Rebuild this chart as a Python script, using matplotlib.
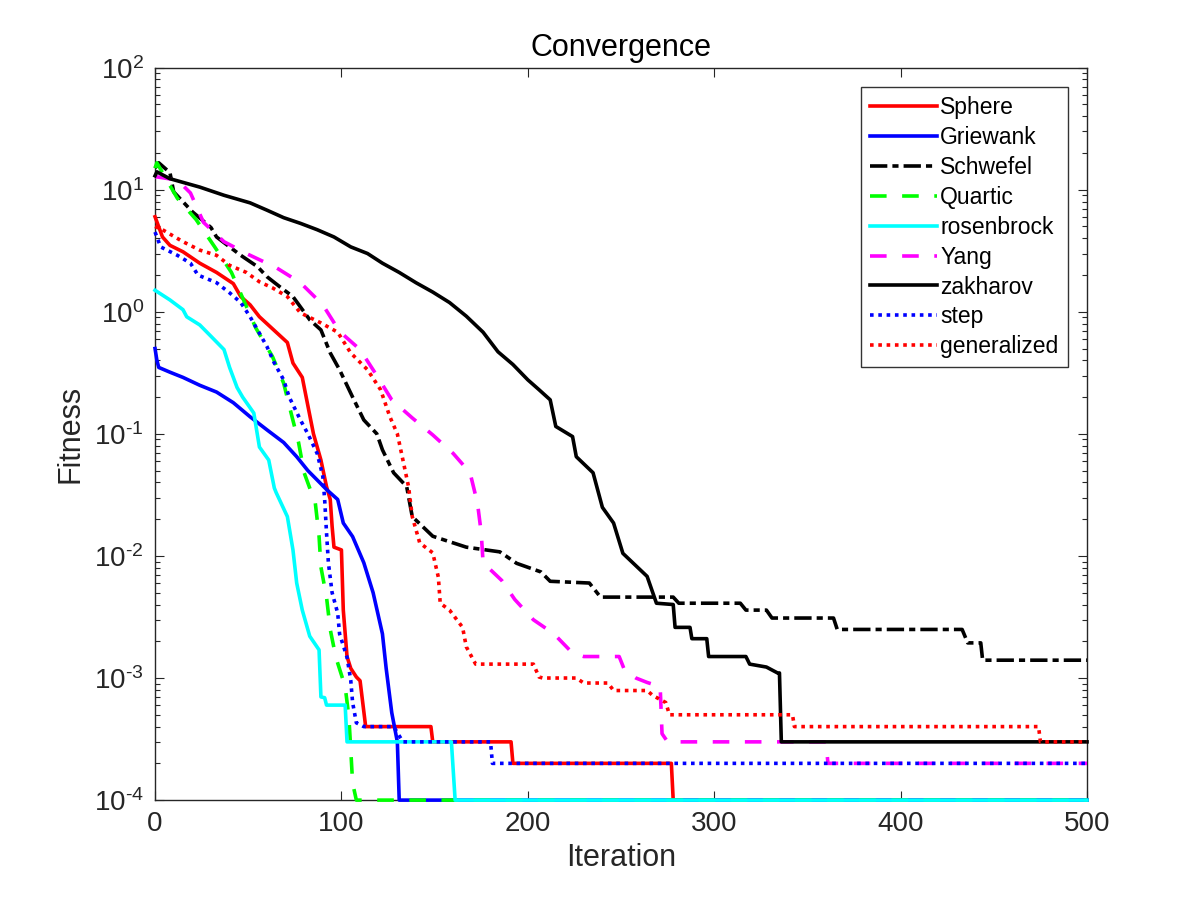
import numpy as np
import matplotlib
matplotlib.use('Agg')
from matplotlib import pyplot as plt
from matplotlib.ticker import FixedLocator, NullFormatter, FuncFormatter

# values (iteration, fitness) at the corners of each curve
sphere_x = [0, 4, 8, 15, 24, 33, 42, 46, 51, 56, 65, 71, 74, 79, 82, 85, 89, 92, 94, 95, 96, 100, 101, 103, 105, 108, 110, 113, 148, 149, 191, 192, 277, 278, 500]
sphere_y = [6.0, 4.1, 3.5, 3.1, 2.5, 2.1, 1.7, 1.33, 1.14, 0.91, 0.68, 0.56, 0.38, 0.29, 0.17, 0.10, 0.061, 0.037, 0.029, 0.0175, 0.0118, 0.0112, 0.0036, 0.0015, 0.0012, 0.00102, 0.00095, 4e-4, 4e-4, 3e-4, 3e-4, 2e-4, 2e-4, 1e-4, 1e-4]

griewank_x = [0, 1, 2, 8, 15, 24, 33, 42, 51, 60, 69, 76, 82, 89, 92, 98, 101, 106, 112, 117, 122, 124, 127, 130, 131, 500]
griewank_y = [0.5, 0.4, 0.35, 0.32, 0.29, 0.25, 0.22, 0.18, 0.138, 0.108, 0.085, 0.065, 0.05, 0.039, 0.035, 0.029, 0.0186, 0.0144, 0.0088, 0.005, 0.0023, 0.0012, 0.00052, 0.0003, 1e-4, 1e-4]

schwefel_x = [0, 2, 8, 10, 20, 30, 33, 46, 55, 60, 67, 74, 83, 89, 94, 99, 106, 112, 119, 122, 128, 135, 138, 149, 167, 185, 194, 207, 212, 233, 239, 278, 281, 314, 317, 328, 331, 364, 366, 433, 436, 443, 444, 500]
schwefel_y = [15, 16.6, 13.8, 9.6, 6.6, 4.9, 4.1, 2.9, 2.34, 1.94, 1.6, 1.33, 0.86, 0.71, 0.46, 0.335, 0.2, 0.13, 0.10, 0.074, 0.048, 0.037, 0.021, 0.0145, 0.0118, 0.0108, 0.0087, 0.0074, 0.0062, 0.006, 0.0046, 0.0046, 0.0041, 0.0041, 0.0036, 0.0036, 0.0031, 0.0031, 0.0025, 0.0025, 0.00194, 0.00194, 0.0014, 0.0014]

quartic_x = [0, 1, 4, 12, 22, 32, 41, 47, 54, 63, 69, 73, 77, 80, 86, 88, 89, 92, 94, 97, 102, 104, 105, 106, 108, 500]
quartic_y = [15, 16.6, 13.8, 8.5, 5.7, 3.4, 2.1, 1.3, 0.74, 0.43, 0.26, 0.148, 0.085, 0.048, 0.027, 0.0145, 0.0081, 0.0046, 0.0025, 0.00148, 0.00085, 0.00048, 0.00026, 0.000138, 1e-4, 1e-4]

rosen_x = [0, 8, 15, 17, 24, 30, 37, 40, 44, 47, 53, 56, 61, 64, 65, 71, 74, 76, 79, 83, 88, 89, 91, 92, 102, 103, 159, 161, 500]
rosen_y = [1.5, 1.25, 1.04, 0.91, 0.78, 0.63, 0.49, 0.35, 0.24, 0.20, 0.148, 0.078, 0.061, 0.036, 0.033, 0.021, 0.0112, 0.006, 0.0036, 0.0022, 0.0017, 0.0007, 0.00069, 0.0006, 0.0006, 0.0003, 0.0003, 1e-4, 1e-4]

yang_x = [0, 12, 19, 26, 37, 49, 65, 78, 90, 99, 110, 119, 127, 138, 149, 160, 169, 173, 175, 176, 186, 193, 203, 214, 224, 230, 249, 252, 258, 264, 271, 272, 275, 360, 361, 500]
yang_y = [12.8, 12.0, 9.4, 5.4, 3.75, 3.0, 2.3, 1.73, 1.14, 0.69, 0.49, 0.30, 0.19, 0.135, 0.098, 0.069, 0.048, 0.027, 0.0155, 0.0088, 0.0063, 0.0044, 0.003, 0.0023, 0.0016, 0.0015, 0.0015, 0.00115, 0.001, 0.00092, 0.00085, 0.00035, 3e-4, 3e-4, 2e-4, 2e-4]

zakharov_x = [0, 1, 8, 24, 37, 51, 60, 69, 78, 87, 96, 105, 114, 122, 131, 140, 149, 158, 167, 176, 184, 192, 200, 206, 212, 215, 224, 226, 235, 240, 246, 251, 264, 269, 278, 279, 287, 288, 296, 297, 317, 319, 328, 334, 335, 336, 500]
zakharov_y = [13, 14, 12.3, 10.5, 9.0, 7.8, 6.8, 5.9, 5.3, 4.7, 4.1, 3.4, 3.0, 2.5, 2.1, 1.73, 1.45, 1.19, 0.92, 0.68, 0.47, 0.37, 0.277, 0.23, 0.19, 0.115, 0.095, 0.065, 0.048, 0.025, 0.0186, 0.0105, 0.0068, 0.0041, 0.0040, 0.0026, 0.0026, 0.0021, 0.0021, 0.0015, 0.0015, 0.0013, 0.00123, 0.0011, 0.0011, 3e-4, 3e-4]

step_x = [0, 3, 12, 19, 23, 33, 40, 46, 51, 55, 60, 64, 69, 72, 78, 82, 87, 90, 91, 92, 93, 95, 98, 99, 103, 105, 106, 108, 112, 128, 133, 180, 181, 500]
step_y = [4.5, 3.4, 2.9, 2.5, 2.0, 1.73, 1.43, 1.19, 0.91, 0.71, 0.52, 0.38, 0.277, 0.20, 0.13, 0.10, 0.069, 0.045, 0.029, 0.0155, 0.0088, 0.005, 0.0034, 0.0023, 0.00148, 0.00096, 0.00063, 0.00043, 4e-4, 4e-4, 3e-4, 3e-4, 2e-4, 2e-4]

general_x = [0, 4, 15, 24, 33, 40, 49, 56, 63, 71, 78, 89, 98, 105, 114, 121, 126, 130, 133, 136, 138, 142, 149, 152, 153, 158, 165, 167, 172, 203, 206, 208, 226, 230, 243, 246, 264, 267, 274, 276, 342, 343, 474, 475, 500]
general_y = [5.0, 4.7, 3.75, 3.2, 2.9, 2.4, 2.1, 1.76, 1.57, 1.33, 0.98, 0.81, 0.68, 0.46, 0.335, 0.23, 0.138, 0.10, 0.061, 0.037, 0.021, 0.0128, 0.0106, 0.0067, 0.0041, 0.0036, 0.0026, 0.0018, 0.0013, 0.0013, 0.00102, 0.001, 0.001, 0.00091, 0.00091, 0.00079, 0.00079, 0.00072, 0.00063, 0.0005, 0.0005, 4e-4, 4e-4, 3e-4, 3e-4]

labels = ['Sphere', 'Griewank', 'Schwefel', 'Quartic', 'rosenbrock', 'Yang', 'zakharov', 'step', 'generalized']
y_ticks = [1e-4, 1e-3, 1e-2, 1e-1, 1e0, 1e1, 1e2]
x_ticks = [0, 100, 200, 300, 400, 500]

plt.rcParams['font.family'] = ['Liberation Sans', 'DejaVu Sans']
plt.rcParams['mathtext.fontset'] = 'custom'
plt.rcParams['mathtext.rm'] = 'Liberation Sans'
plt.rcParams['mathtext.it'] = 'Liberation Sans:italic'

GREY = '#262626'
LW = 2.6
DASH = (4.6, 4.3)
DASHDOT = (4.8, 1.4, 1.7, 1.4)
DOT = (1.0, 1.3)


def pow10(v, pos):
    # MATLAB style label: 10 with a plain hyphen in the exponent
    n = int(round(np.log10(v)))
    if n < 0:
        return r'$\mathdefault{10^{\text{-}%d}}$' % (-n)
    return r'$\mathdefault{10^{%d}}$' % n


fig = plt.figure(figsize=(11.99, 8.99), dpi=100)
ax = fig.add_axes([0.1293, 0.110, 0.7773, 0.8148])

series = [
    (sphere_x, sphere_y, (1, 0, 0), None),
    (griewank_x, griewank_y, (0, 0, 1), None),
    (schwefel_x, schwefel_y, 'k', DASHDOT),
    (quartic_x, quartic_y, (0, 1, 0), DASH),
    (rosen_x, rosen_y, (0, 1, 1), None),
    (yang_x, yang_y, (1, 0, 1), DASH),
    (zakharov_x, zakharov_y, 'k', None),
    (step_x, step_y, (0, 0, 1), DOT),
    (general_x, general_y, (1, 0, 0), DOT),
]

for (xs, ys, col, dashes), lab in zip(series, labels):
    line, = ax.semilogy(xs, ys, color=col, lw=LW, label=lab, zorder=3, clip_on=False)
    if dashes is not None:
        line.set_dashes(dashes)

ax.set_xlim(0, 500)
ax.set_ylim(1e-4, 1e2)
ax.set_xticks(x_ticks)
ax.yaxis.set_major_locator(FixedLocator(y_ticks))
ax.yaxis.set_major_formatter(FuncFormatter(pow10))
minor = [m * t for t in y_ticks[:-1] for m in range(2, 10)]
ax.yaxis.set_minor_locator(FixedLocator(minor))
ax.yaxis.set_minor_formatter(NullFormatter())

ax.tick_params(which='both', direction='in', top=True, right=True, colors=GREY, labelcolor=GREY)
ax.tick_params(which='major', length=6.5, width=0.8, labelsize=20, pad=8)
ax.tick_params(which='minor', length=3.5, width=0.8)
for sp in ax.spines.values():
    sp.set_color(GREY)
    sp.set_linewidth(1.0)

ax.set_title('Convergence', fontsize=22, pad=8, color='k')
ax.set_xlabel('Iteration', fontsize=22, color=GREY, labelpad=4)
ax.set_ylabel('Fitness', fontsize=22, color=GREY, labelpad=6)

leg = ax.legend(loc='upper right', fontsize=16.5, frameon=True, fancybox=False,
                edgecolor='k', handlelength=2.9, handletextpad=0.15,
                labelspacing=0.3, borderaxespad=0.85, borderpad=0.4)
leg.get_frame().set_linewidth(1.0)

fig.savefig('out.png', dpi=100)
